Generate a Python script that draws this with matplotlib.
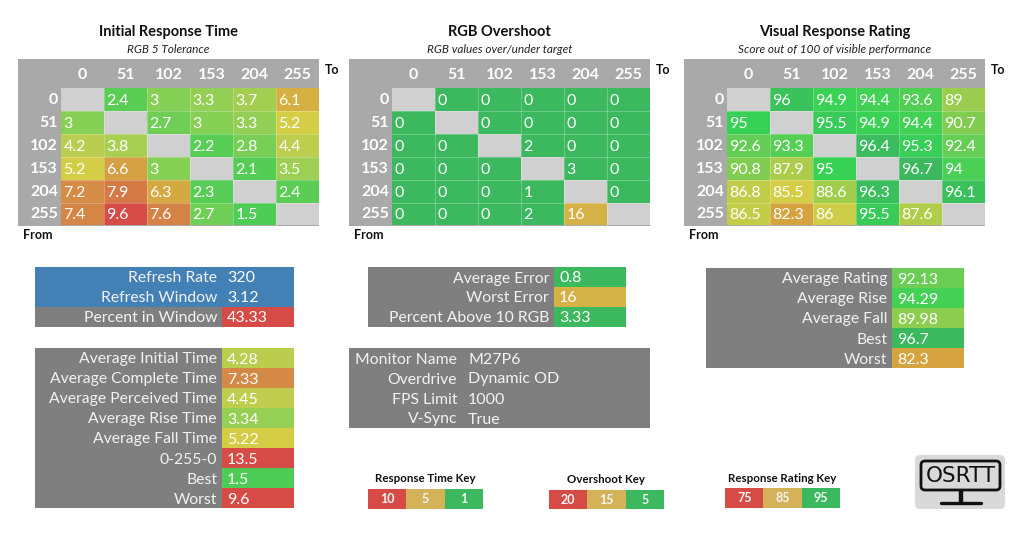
import numpy as np
import matplotlib
matplotlib.use("Agg")
import matplotlib.pyplot as plt
from matplotlib.colors import LinearSegmentedColormap, Normalize
from matplotlib.patches import FancyBboxPatch, Rectangle

plt.rcParams['font.family'] = ['Lato', 'DejaVu Sans']

levels = [0, 51, 102, 153, 204, 255]
N = np.nan

response_times = [
    [N, 2.4, 3, 3.3, 3.7, 6.1],
    [3, N, 2.7, 3, 3.3, 5.2],
    [4.2, 3.8, N, 2.2, 2.8, 4.4],
    [5.2, 6.6, 3, N, 2.1, 3.5],
    [7.2, 7.9, 6.3, 2.3, N, 2.4],
    [7.4, 9.6, 7.6, 2.7, 1.5, N],
]
overshoot = [
    [N, 0, 0, 0, 0, 0],
    [0, N, 0, 0, 0, 0],
    [0, 0, N, 2, 0, 0],
    [0, 0, 0, N, 3, 0],
    [0, 0, 0, 1, N, 0],
    [0, 0, 0, 2, 16, N],
]
ratings = [
    [N, 96, 94.9, 94.4, 93.6, 89],
    [95, N, 95.5, 94.9, 94.4, 90.7],
    [92.6, 93.3, N, 96.4, 95.3, 92.4],
    [90.8, 87.9, 95, N, 96.7, 94],
    [86.8, 85.5, 88.6, 96.3, N, 96.1],
    [86.5, 82.3, 86, 95.5, 87.6, N],
]

window_labels = ['Refresh Rate', 'Refresh Window', 'Percent in Window']
window_values = ['320', '3.12', '43.33']
time_labels = ['Average Initial Time', 'Average Complete Time', 'Average Perceived Time',
               'Average Rise Time', 'Average Fall Time', '0-255-0', 'Best', 'Worst']
time_values = ['4.28', '7.33', '4.45', '3.34', '5.22', '13.5', '1.5', '9.6']
error_labels = ['Average Error', 'Worst Error', 'Percent Above 10 RGB']
error_values = ['0.8', '16', '3.33']
rating_labels = ['Average Rating', 'Average Rise', 'Average Fall', 'Best', 'Worst']
rating_values = ['92.13', '94.29', '89.98', '96.7', '82.3']
info_labels = ['Monitor Name', 'Overdrive', 'FPS Limit', 'V-Sync']
info_values = ['M27P6', 'Dynamic OD', '1000', 'True']

key_colours = ['#d74b46', '#d4b25a', '#3cb95f']


def scale(stops):
    lo, hi = stops[0][0], stops[-1][0]
    pts = [((v - lo) / (hi - lo), tuple(c / 255 for c in rgb)) for v, rgb in stops]
    cmap = LinearSegmentedColormap.from_list('s', pts)
    cmap.set_bad('#d0d0d0')
    return cmap, Normalize(lo, hi)


time_scale = scale([(1, (70, 205, 85)), (2.4, (90, 205, 85)), (3, (135, 208, 85)),
                    (4.2, (185, 205, 80)), (5.2, (213, 205, 70)), (6.1, (213, 175, 65)),
                    (7.4, (213, 135, 70)), (9.6, (215, 75, 70)), (14, (215, 75, 70))])
error_scale = scale([(0, (60, 185, 95)), (5, (60, 185, 95)), (16, (213, 178, 70)),
                     (20, (215, 75, 70))])
rating_scale = scale([(75, (215, 75, 70)), (82.3, (213, 165, 65)), (85.5, (213, 205, 70)),
                      (88, (170, 205, 75)), (92.6, (100, 205, 85)), (95, (55, 210, 85)),
                      (96.7, (60, 185, 95)), (100, (60, 185, 95))])

fig = plt.figure(figsize=(10.24, 5.52), dpi=100)
ax = fig.add_axes([0, 0, 1, 1])
ax.set_xlim(0, 1024)
ax.set_ylim(552, 0)
ax.axis('off')


def heatmap(x0, values, colours, title, subtitle):
    cell_w, cell_h = 43, 22.9
    left = x0 + 43
    top = 88
    ax.add_patch(Rectangle((x0, 59), 43 + 6 * cell_w, 167, color='#a9a9a9', lw=0))
    xs = left + np.arange(7) * cell_w
    ys = top + np.arange(7) * cell_h
    data = np.ma.masked_invalid(np.array(values, dtype=float))
    mesh = ax.pcolormesh(xs, ys, data, cmap=colours[0], norm=colours[1], linewidth=0)
    mesh.set_edgecolor('none')
    ax.add_patch(Rectangle((left, top), 6 * cell_w, 6 * cell_h, fc='#d0d0d0', lw=0, zorder=0.5))
    for v in xs[1:-1]:
        ax.plot([v, v], [top, ys[-1]], color='white', alpha=0.25, lw=0.7)
    for v in ys[1:-1]:
        ax.plot([left, xs[-1]], [v, v], color='white', alpha=0.25, lw=0.7)
    for i, lvl in enumerate(levels):
        ax.text(xs[i] + cell_w / 2, 75, str(lvl), color='white', fontsize=11.5,
                fontweight='bold', ha='center', va='center')
        ax.text(left - 3, ys[i] + cell_h / 2 + 0.5, str(lvl), color='white', fontsize=11.5,
                fontweight='bold', ha='right', va='center')
        for j in range(6):
            if not np.isnan(values[i][j]):
                ax.text(xs[j] + 2.5, ys[i] + cell_h / 2 + 1.5, f'{values[i][j]:g}', color='white',
                        fontsize=11.5, ha='left', va='center')
    mid = x0 + 150.5
    ax.text(mid, 32, title, fontsize=10.5, fontweight='bold', ha='center', va='center', color='#111111')
    ax.text(mid, 49.5, subtitle, fontsize=8.5, style='italic', ha='center', va='center', color='#222222')
    ax.text(x0 + 314, 70, 'To', fontsize=9, fontweight='bold', ha='center', va='center', color='#111111')
    ax.text(x0 + 20, 235, 'From', fontsize=9, fontweight='bold', ha='center', va='center', color='#111111')


def panel(x0, split, x1, y0, labels, values, colours=None, blue_rows=0, row_h=20, value_x=None):
    for i, (lab, val) in enumerate(zip(labels, values)):
        y = y0 + i * row_h
        bg = '#4380b5' if i < blue_rows else '#7f7f7f'
        ax.add_patch(Rectangle((x0, y), x1 - x0, row_h, color=bg, lw=0))
        if colours is not None and i >= blue_rows:
            c = colours[0](colours[1](float(val)))
            ax.add_patch(Rectangle((split, y), x1 - split, row_h, color=c, lw=0))
        ax.text(split - 5, y + row_h / 2 + 1.5, lab, color='#f2f2f2', fontsize=11.3, ha='right', va='center')
        tx = value_x if value_x else split + 5
        ax.text(tx, y + row_h / 2 + 1.5, val, color='white' if colours else '#f2f2f2',
                fontsize=11.5, ha='left', va='center')


def key(x0, y0, title, labels):
    w = 38.3
    ax.text(x0 + 1.5 * w, y0 - 10, title, fontsize=8.3, fontweight='bold', ha='center', va='center', color='#111111')
    for i, lab in enumerate(labels):
        ax.add_patch(Rectangle((x0 + i * w, y0), w, 19.5, color=key_colours[i], lw=0))
        ax.text(x0 + (i + 0.5) * w, y0 + 10, str(lab), fontsize=9, fontweight='bold',
                color='#f4f4f4', ha='center', va='center')


heatmap(18, response_times, time_scale, 'Initial Response Time', 'RGB 5 Tolerance')
heatmap(349, overshoot, error_scale, 'RGB Overshoot', 'RGB values over/under target')
heatmap(684, ratings, rating_scale, 'Visual Response Rating', 'Score out of 100 of visible performance')

panel(35, 222, 294, 267, window_labels, window_values, time_scale, blue_rows=2)
panel(35, 222, 294, 348, time_labels, time_values, time_scale)
panel(368, 554, 626, 267, error_labels, error_values, error_scale)
panel(349, 462, 650, 348, info_labels, info_values, value_x=468)
panel(706, 892, 964, 268, rating_labels, rating_values, rating_scale)

key(368, 489, 'Response Time Key', [10, 5, 1])
key(549, 489.5, 'Overshoot Key', [20, 15, 5])
key(725, 488, 'Response Rating Key', [75, 85, 95])

# logo
ax.add_patch(FancyBboxPatch((919, 459), 82, 46, boxstyle='round,pad=4,rounding_size=5',
                            fc='#d9d9d9', ec='none'))
ax.add_patch(FancyBboxPatch((923, 463), 75, 25, boxstyle='round,pad=2,rounding_size=4',
                            fc='none', ec='#111111', lw=2))
ax.text(960.5, 475.5, 'OSRTT', fontsize=15.5, color='#111111', ha='center', va='center', family='DejaVu Sans')
ax.plot([961, 961], [490, 502], color='#111111', lw=3.2, solid_capstyle='butt')
ax.plot([941, 981], [503, 503], color='#111111', lw=2.4, solid_capstyle='round')

fig.savefig('out.png', dpi=100)
